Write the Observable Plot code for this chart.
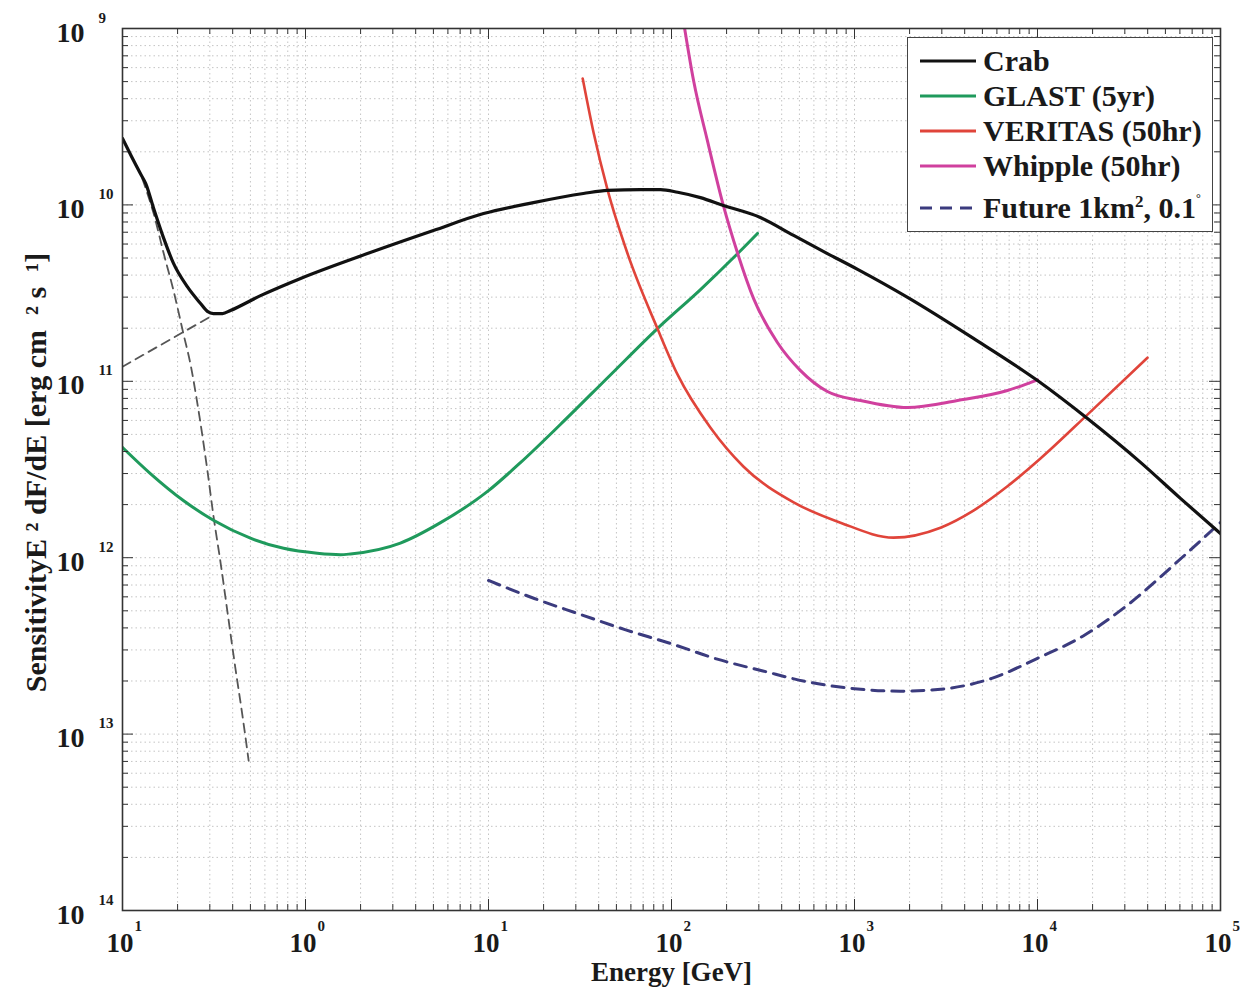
<!DOCTYPE html>
<html>
<head>
<meta charset="utf-8">
<script src="https://cdn.jsdelivr.net/npm/d3@7"></script>
<script src="https://cdn.jsdelivr.net/npm/@observablehq/plot@0.6"></script>
<style>
html, body { margin: 0; padding: 0; background: #fff; }
#wrap { position: relative; width: 1240px; height: 987px; overflow: hidden; }
#legend { position: absolute; left: 907px; top: 37px; width: 304px; height: 193px;
  border: 1.5px solid #444; background: #fff; font-family: "Liberation Serif", serif;
  font-weight: bold; font-size: 30px; color: #1a1a1a; }
.row { position: absolute; left: 0; height: 34px; display: flex; align-items: center; white-space: nowrap; }
.row svg { margin-left: 12px; margin-right: 7px; }
sup { font-size: 17px; vertical-align: 0; position: relative; top: -11px; }
sup.deg { font-size: 12px; top: -16px; }
</style>
</head>
<body>
<div id="wrap"></div>
<script>
// ---- axis ticks ----
const xMajor = [0.1, 1, 10, 100, 1000, 10000, 100000];
const xExpLabels = ["1", "0", "1", "2", "3", "4", "5"];
const yMajor = [1e-9, 1e-10, 1e-11, 1e-12, 1e-13, 1e-14];
const yExpLabels = ["9", "10", "11", "12", "13", "14"];

// ---- series (Energy GeV, E^2 dF/dE erg cm^-2 s^-1) ----
const crabE = [0.1, 0.112, 0.125, 0.134, 0.148, 0.168, 0.190, 0.226, 0.267, 0.291, 0.314, 0.352, 0.389, 0.568, 0.940, 2.18, 5.00, 9.40, 17.6, 33.0, 44.7, 67.8, 87.1, 108, 144, 192, 306, 465, 711, 1040, 1950, 4470, 10000, 18750, 36560, 60400, 100000];
const crabF = [2.38e-10, 1.88e-10, 1.51e-10, 1.32e-10, 9.55e-11, 6.46e-11, 4.66e-11, 3.44e-11, 2.76e-11, 2.49e-11, 2.42e-11, 2.42e-11, 2.52e-11, 3.06e-11, 3.83e-11, 5.30e-11, 7.16e-11, 8.93e-11, 1.03e-10, 1.16e-10, 1.21e-10, 1.22e-10, 1.22e-10, 1.18e-10, 1.10e-10, 9.93e-11, 8.49e-11, 6.71e-11, 5.30e-11, 4.31e-11, 2.99e-11, 1.75e-11, 1.01e-11, 6.15e-12, 3.47e-12, 2.17e-12, 1.37e-12];

const crabSteepE = [0.1, 0.112, 0.125, 0.135, 0.148, 0.168, 0.190, 0.215, 0.236, 0.254, 0.291, 0.314, 0.344, 0.375, 0.414, 0.453, 0.489];
const crabSteepF = [2.38e-10, 1.88e-10, 1.51e-10, 1.21e-10, 8.93e-11, 5.30e-11, 3.27e-11, 1.87e-11, 1.23e-11, 7.98e-12, 3.12e-12, 1.73e-12, 9.27e-13, 4.89e-13, 2.36e-13, 1.26e-13, 7.08e-14];

const crabICE = [0.1, 0.310];
const crabICF = [1.21e-11, 2.36e-11];

const glastE = [0.1, 0.142, 0.215, 0.314, 0.500, 0.759, 1.16, 1.55, 1.76, 3.30, 5.47, 10, 15.0, 24.7, 46.5, 83.8, 144, 230, 295];
const glastF = [4.22e-12, 3.00e-12, 2.11e-12, 1.63e-12, 1.29e-12, 1.13e-12, 1.06e-12, 1.04e-12, 1.05e-12, 1.21e-12, 1.58e-12, 2.40e-12, 3.47e-12, 5.69e-12, 1.09e-11, 1.99e-11, 3.31e-11, 5.30e-11, 6.89e-11];

const veritasE = [32.7, 37.5, 44.7, 57.5, 83.8, 108, 163, 247, 465, 838, 1633, 2951, 4467, 6855, 10380, 19010, 39900];
const veritasF = [5.21e-10, 2.57e-10, 1.22e-10, 5.30e-11, 1.99e-11, 1.09e-11, 5.47e-12, 3.29e-12, 2.06e-12, 1.58e-12, 1.30e-12, 1.48e-12, 1.85e-12, 2.54e-12, 3.65e-12, 6.56e-12, 1.36e-11];

const whippleE = [118, 132, 157, 192, 230, 281, 379, 507, 711, 1079, 1950, 3656, 6855, 10000];
const whippleF = [1.00e-9, 5.07e-10, 2.32e-10, 9.93e-11, 5.30e-11, 2.94e-11, 1.66e-11, 1.15e-11, 8.75e-12, 7.78e-12, 7.10e-12, 7.78e-12, 8.87e-12, 1.02e-11];

const futureE = [10, 17.8, 31.6, 56.2, 100, 178, 316, 562, 1000, 1778, 3162, 5623, 10000, 17780, 31620, 56230, 100000];
const futureF = [7.43e-13, 5.87e-13, 4.78e-13, 3.90e-13, 3.25e-13, 2.66e-13, 2.28e-13, 1.97e-13, 1.81e-13, 1.75e-13, 1.81e-13, 2.07e-13, 2.69e-13, 3.60e-13, 5.47e-13, 9.20e-13, 1.585e-12];

const seriesNames = ["Crab", "GLAST (5yr)", "VERITAS (50hr)", "Whipple (50hr)", "Future 1km<sup>2</sup>, 0.1<sup class=\"deg\">°</sup>"];
const seriesColors = ["#111111", "#1f9a5c", "#e0443a", "#d0409e", "#3b3b7e"];

// ---- build tables ----
const pts = (E, F) => E.map((e, i) => ({E: e, F: F[i]}));
const crab = pts(crabE, crabF);
const crabSteep = pts(crabSteepE, crabSteepF);
const crabIC = pts(crabICE, crabICF);
const glast = pts(glastE, glastF);
const veritas = pts(veritasE, veritasF);
const whipple = pts(whippleE, whippleF);
const future = pts(futureE, futureF);

const xMinor = xMajor.slice(0, -1).flatMap(d => [2,3,4,5,6,7,8,9].map(k => d * k));
const yMinor = yMajor.slice(1).flatMap(d => [2,3,4,5,6,7,8,9].map(k => d * k));

const W = 1240, H = 987, mL = 122, mR = 20, mT = 28, mB = 77;
const pw = W - mL - mR, ph = H - mT - mB;
const majLen = 11, minLen = 6;
const tickStroke = "#333";
const gridStyle = {stroke: "#c4c4c4", strokeDasharray: "1.5,3", strokeWidth: 1};
const lineOpt = (color, w, dash) => ({x: "E", y: "F", stroke: color, strokeWidth: w, curve: "monotone-x", clip: true, strokeDasharray: dash});

const chart = Plot.plot({
  width: W, height: H,
  marginLeft: mL, marginRight: mR, marginTop: mT, marginBottom: mB,
  x: {type: "log", domain: [0.1, 1e5], axis: null},
  y: {type: "log", domain: [1e-14, 1e-9], axis: null},
  style: {fontFamily: '"Liberation Serif", serif', background: "#fff", color: "#1a1a1a"},
  marks: [
    Plot.ruleX(xMinor.concat(xMajor), gridStyle),
    Plot.ruleY(yMinor.concat(yMajor), gridStyle),
    Plot.line(crabSteep, lineOpt("#555", 1.8, "9,6")),
    Plot.line(crabIC, lineOpt("#555", 1.8, "9,6")),
    Plot.line(glast, lineOpt(seriesColors[1], 3)),
    Plot.line(veritas, lineOpt(seriesColors[2], 2.6)),
    Plot.line(whipple, lineOpt(seriesColors[3], 3)),
    Plot.line(future, lineOpt(seriesColors[4], 3, "12,8")),
    Plot.line(crab, lineOpt(seriesColors[0], 3.2)),
    // inward ticks, four sides
    Plot.ruleX(xMajor, {insetTop: ph - majLen, stroke: tickStroke}),
    Plot.ruleX(xMinor, {insetTop: ph - minLen, stroke: tickStroke}),
    Plot.ruleX(xMajor, {insetBottom: ph - majLen, stroke: tickStroke}),
    Plot.ruleX(xMinor, {insetBottom: ph - minLen, stroke: tickStroke}),
    Plot.ruleY(yMajor, {insetRight: pw - majLen, stroke: tickStroke}),
    Plot.ruleY(yMinor, {insetRight: pw - minLen, stroke: tickStroke}),
    Plot.ruleY(yMajor, {insetLeft: pw - majLen, stroke: tickStroke}),
    Plot.ruleY(yMinor, {insetLeft: pw - minLen, stroke: tickStroke}),
    Plot.frame({stroke: "#333", strokeWidth: 1.6}),
    // x tick labels
    Plot.text(xMajor, {x: d => d, text: () => "10", frameAnchor: "bottom", textAnchor: "end", lineAnchor: "bottom", dx: 11, dy: 41, fontSize: 27, fontWeight: "bold"}),
    Plot.text(xMajor, {x: d => d, text: (d, i) => xExpLabels[i], frameAnchor: "bottom", textAnchor: "start", lineAnchor: "bottom", dx: 12, dy: 20, fontSize: 15, fontWeight: "bold"}),
    // y tick labels
    Plot.text(yMajor, {y: d => d, text: () => "10", frameAnchor: "left", textAnchor: "end", lineAnchor: "bottom", dx: -38, dy: 13, fontSize: 28, fontWeight: "bold"}),
    Plot.text(yMajor, {y: d => d, text: (d, i) => yExpLabels[i], frameAnchor: "left", textAnchor: "start", lineAnchor: "bottom", dx: -24, dy: -6, fontSize: 15, fontWeight: "bold"}),
    // axis titles
    Plot.text(["Energy [GeV]"], {frameAnchor: "bottom", textAnchor: "middle", lineAnchor: "bottom", dy: 70, fontSize: 27, fontWeight: "bold"}),
    Plot.text(["SensitivityE \u00b2 dF/dE [erg cm  \u00b2 s  \u00b9]"], {frameAnchor: "left", textAnchor: "middle", lineAnchor: "bottom", rotate: -90, dx: -77, dy: 3, fontSize: 30, fontWeight: "bold"})
  ]
});

const wrap = document.getElementById("wrap");
wrap.appendChild(chart);

// legend
const legend = document.createElement("div");
legend.id = "legend";
const rowCenters = [23, 58, 93, 128, 170];
seriesNames.forEach((name, i) => {
  const row = document.createElement("div");
  row.className = "row";
  row.style.top = (rowCenters[i] - 17) + "px";
  const dash = i === 4 ? ' stroke-dasharray="12,8"' : "";
  row.innerHTML = `<svg width="56" height="10"><line x1="0" y1="5" x2="56" y2="5" stroke="${seriesColors[i]}" stroke-width="3"${dash}/></svg><span>${name}</span>`;
  legend.appendChild(row);
});
wrap.appendChild(legend);
</script>
</body>
</html>
